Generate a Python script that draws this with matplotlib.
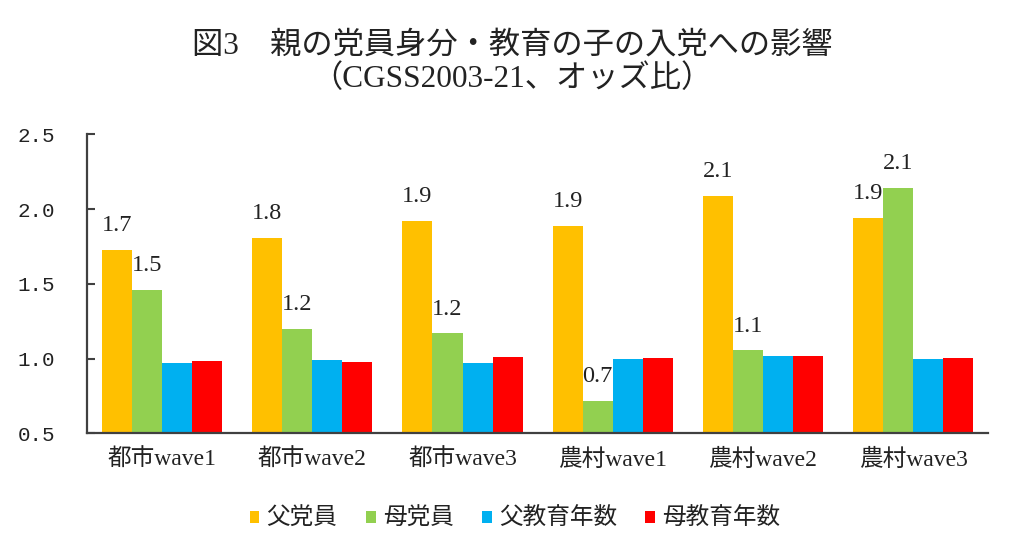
import numpy as np
import matplotlib
matplotlib.use('Agg')
import matplotlib.pyplot as plt

# Data (odds ratios)
groups = ['都市wave1', '都市wave2', '都市wave3', '農村wave1', '農村wave2', '農村wave3']
series_names = ['父党員', '母党員', '父教育年数', '母教育年数']
father_party = [1.73, 1.81, 1.92, 1.89, 2.09, 1.94]
mother_party = [1.46, 1.20, 1.17, 0.72, 1.056, 2.14]
father_edu = [0.973, 0.989, 0.973, 0.998, 1.016, 0.998]
mother_edu = [0.984, 0.978, 1.013, 1.002, 1.016, 1.006]
yticks = [0.5, 1.0, 1.5, 2.0, 2.5]

colors = ['#FFC000', '#92D050', '#00B0F0', '#FF0000']
jp = ['Liberation Serif', 'Noto Sans CJK JP']

fig = plt.figure(figsize=(10.24, 5.6), dpi=100)
ax = fig.add_axes([0.085, 0.226, 0.88, 0.534])

x = np.arange(len(groups))
width = 0.2
all_series = [father_party, mother_party, father_edu, mother_edu]
bars = []
for i, vals in enumerate(all_series):
    b = ax.bar(x + (i - 1.5) * width, vals, width, color=colors[i],
               linewidth=0, label=series_names[i], zorder=2)
    bars.append(b)

# value labels only on the party-member series
for b, vals in zip(bars[:2], all_series[:2]):
    for rect, v in zip(b, vals):
        ax.annotate(f'{v:.1f}', (rect.get_x() + rect.get_width() / 2, v),
                    xytext=(0, 13.5), textcoords='offset points',
                    ha='center', va='baseline', fontsize=17.5,
                    family='Liberation Serif', color='#222222')

ax.set_xlim(-0.5, len(groups) - 0.5)
ax.set_ylim(0.5, 2.5)
ax.set_yticks(yticks)
ax.set_yticklabels([f'{t:.1f}' for t in yticks], family='Liberation Mono',
                   fontsize=15, color='#222222')
ax.set_xticks(x)
ax.set_xticklabels(groups, family=jp, fontsize=17, color='#222222')

ax.tick_params(axis='x', length=0, pad=11)
ax.tick_params(axis='y', direction='in', length=6, width=1.5, color='#404040', pad=23)

for s in ['top', 'right']:
    ax.spines[s].set_visible(False)
for s in ['left', 'bottom']:
    ax.spines[s].set_linewidth(1.6)
    ax.spines[s].set_color('#404040')

fig.text(0.5, 0.917, '図3　親の党員身分・教育の子の入党への影響',
         ha='center', va='center', fontsize=22.5, family=jp, color='#222222')
fig.text(0.5, 0.858, '（CGSS2003-21、オッズ比）',
         ha='center', va='center', fontsize=22.5, family=jp, color='#222222')

fig.legend(loc='center', bbox_to_anchor=(0.503, 0.073), ncol=4, frameon=False,
           prop={'family': jp, 'size': 17}, handlelength=0.42, handleheight=0.42,
           handletextpad=0.3, columnspacing=1.2, labelcolor='#222222')

fig.savefig('out.png', dpi=100)
